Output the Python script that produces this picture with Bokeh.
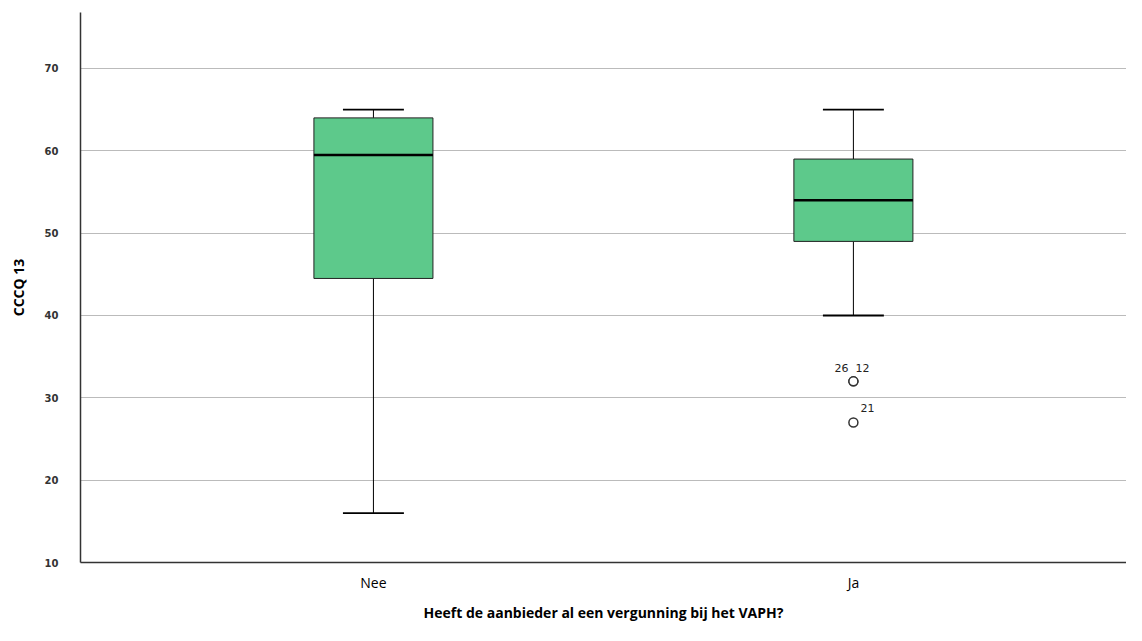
from bokeh.plotting import figure
from bokeh.models import FixedTicker, Range1d, ColumnDataSource
from bokeh.embed import file_html
from bokeh.resources import INLINE
from bokeh.core.properties import value

# ---- data ----
categories = ["Nee", "Ja"]
q1 = [44.5, 49.0]
median = [59.5, 54.0]
q3 = [64.0, 59.0]
whisker_low = [16.0, 40.0]
whisker_high = [65.0, 65.0]
outlier_group = [2, 2, 2]
outlier_values = [32.0, 32.0, 27.0]
outlier_labels = ["26", "12", "21"]
y_ticks = [10, 20, 30, 40, 50, 60, 70]

pos = [i + 1 for i in range(len(categories))]
box_w = 0.248
cap_w = 0.127

p = figure(width=1126, height=625, output_backend="svg", toolbar_location=None,
           x_range=Range1d(0.3897, 2.569), y_range=Range1d(10, 76.8),
           min_border_left=80, min_border_top=12, min_border_right=0, min_border_bottom=63)
p.outline_line_color = None
p.background_fill_color = "white"

src = ColumnDataSource(dict(x=pos, q1=q1, q3=q3, med=median, lo=whisker_low, hi=whisker_high,
                            cl=[x - cap_w / 2 for x in pos], cr=[x + cap_w / 2 for x in pos],
                            bl=[x - box_w / 2 for x in pos], br=[x + box_w / 2 for x in pos]))

# whiskers
p.segment(x0="x", y0="q3", x1="x", y1="hi", source=src, line_color="black", line_width=1)
p.segment(x0="x", y0="q1", x1="x", y1="lo", source=src, line_color="black", line_width=1)
p.segment(x0="cl", y0="hi", x1="cr", y1="hi", source=src, line_color="black", line_width=1.8)
p.segment(x0="cl", y0="lo", x1="cr", y1="lo", source=src, line_color="black", line_width=1.8)
# boxes
p.vbar(x="x", width=box_w, bottom="q1", top="q3", source=src,
       fill_color="#5DC98B", line_color="#222222", line_width=1)
p.segment(x0="bl", y0="med", x1="br", y1="med", source=src, line_color="black", line_width=2.5)

# outliers
p.scatter(x=outlier_group, y=outlier_values, size=9, marker="circle",
          fill_color="white", line_color="#333333", line_width=1.5)
label_dx = [-12, 9, 14]
label_dy = [-9, -9, -11]
for i in range(len(outlier_labels)):
    p.text(x=[outlier_group[i]], y=[outlier_values[i]], text=[outlier_labels[i]],
           text_font=value("DejaVu Sans"), text_font_size="11px", text_color="#222222",
           text_align="center", text_baseline="bottom",
           x_offset=label_dx[i], y_offset=label_dy[i])

# axes
p.yaxis.ticker = FixedTicker(ticks=y_ticks)
p.xaxis.ticker = FixedTicker(ticks=pos)
p.xaxis.major_label_overrides = {pos[i]: categories[i] for i in range(len(categories))}
p.xaxis.axis_label = "Heeft de aanbieder al een vergunning bij het VAPH?"
p.yaxis.axis_label = "CCCQ 13"
for ax in (p.xaxis, p.yaxis):
    ax.major_tick_line_color = None
    ax.minor_tick_line_color = None
    ax.axis_line_color = "#333333"
    ax.axis_line_width = 1.5
    ax.axis_label_text_font = "Open Sans"
    ax.axis_label_text_font_style = "bold"
    ax.axis_label_text_font_size = "14px"
    ax.axis_label_text_color = "black"
p.yaxis.major_label_text_font = "DejaVu Sans"
p.yaxis.major_label_text_font_size = "10px"
p.yaxis.major_label_text_font_style = "bold"
p.yaxis.major_label_text_color = "#333333"
p.yaxis.major_label_standoff = 16
p.yaxis.axis_label_standoff = 14
p.xaxis.major_label_text_font = "Open Sans"
p.xaxis.major_label_text_font_size = "14px"
p.xaxis.major_label_text_color = "black"
p.xaxis.major_label_standoff = 4
p.xaxis.axis_label_standoff = 8

p.xgrid.grid_line_color = None
p.ygrid.grid_line_color = "#BBBBBB"
p.ygrid.grid_line_width = 1

open("out.html", "w").write(file_html(p, INLINE))
